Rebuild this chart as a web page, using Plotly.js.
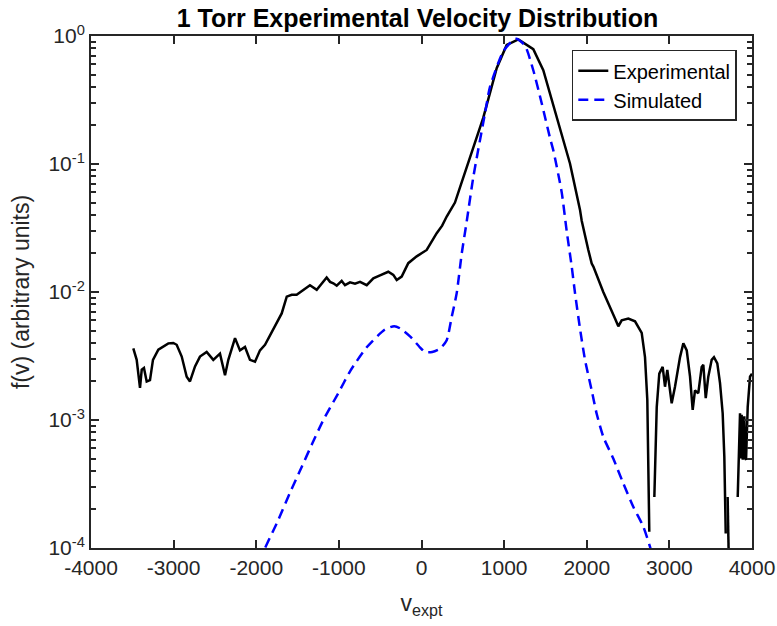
<!DOCTYPE html>
<html>
<head>
<meta charset="utf-8">
<script src="https://cdn.plot.ly/plotly-3.0.1.min.js"></script>
<style>html,body{margin:0;padding:0;background:#fff;}#chart{width:777px;height:626px;}</style>
</head>
<body>
<div id="chart"></div>
<script>
// Experimental curve (null = gap where the value cannot be drawn on a log axis)
const expX = [-3488,-3447,-3407,-3386,-3359,-3326,-3286,-3250,-3185,-3125,-3064,-3004,-2963,-2902,-2842,-2802,-2741,-2681,-2600,-2520,-2439,-2378,-2338,-2257,-2197,-2136,-2076,-2015,-1955,-1894,-1834,-1752,-1692,-1631,-1571,-1511,-1431,-1350,-1268,-1148,-1107,-1067,-1026,-966,-926,-865,-805,-744,-663,-583,-502,-402,-341,-300,-240,-160,-58,63,184,250,305,405,480,587,748,910,1031,1172,1353,1474,1595,1636,1757,1797,1918,1939,2019,2060,2080,2200,2342,2382,2423,2503,2584,2665,2705,2733,2757,2787,2818,2847,2878,2919,2947,2975,3028,3068,3129,3169,3210,3250,3282,3310,3350,3391,3411,3440,3471,3512,3540,3580,3613,3645,3665,3682,3693,3705,3725,3780,3827,3855,3865,3875,3888,3907,3918,3928,3948,3976,4000];
const expY = [3.63e-3,2.95e-3,1.78e-3,2.47e-3,2.55e-3,2.0e-3,2.05e-3,2.95e-3,3.54e-3,3.72e-3,3.97e-3,4.0e-3,3.87e-3,3.13e-3,2.18e-3,2.0e-3,2.62e-3,3.13e-3,3.4e-3,2.95e-3,3.3e-3,2.24e-3,2.95e-3,4.36e-3,3.5e-3,3.72e-3,2.95e-3,2.85e-3,3.5e-3,3.87e-3,4.6e-3,5.7e-3,6.8e-3,9.2e-3,9.5e-3,9.5e-3,1.04e-2,1.13e-2,1.04e-2,1.30e-2,1.2e-2,1.17e-2,1.12e-2,1.22e-2,1.13e-2,1.19e-2,1.16e-2,1.2e-2,1.13e-2,1.28e-2,1.35e-2,1.44e-2,1.36e-2,1.24e-2,1.32e-2,1.68e-2,1.9e-2,2.13e-2,2.88e-2,3.3e-2,3.89e-2,5.0e-2,7.0e-2,0.114,0.23,0.56,0.85,0.94,0.79,0.54,0.29,0.234,0.128,0.101,4.4e-2,3.6e-2,2.13e-2,1.67e-2,1.58e-2,1.0e-2,6.2e-3,5.4e-3,6.0e-3,6.2e-3,5.9e-3,4.8e-3,3.1e-3,1.44e-3,1.34e-4,null,2.5e-4,1.26e-3,2.3e-3,2.6e-3,1.82e-3,2.46e-3,1.35e-3,1.82e-3,3.1e-3,3.98e-3,3.5e-3,2.18e-3,1.2e-3,1.7e-3,1.62e-3,2.6e-3,2.7e-3,1.48e-3,2.18e-3,2.95e-3,3.1e-3,2.77e-3,1.94e-3,1.13e-3,5.2e-4,1.3e-4,null,2.5e-4,5e-5,null,2.5e-4,1.13e-3,5.0e-4,1.1e-3,4.9e-4,1.07e-3,5.0e-4,4.9e-4,1.26e-3,2.18e-3,2.3e-3];

// Simulated curve
const simX = [-2050,-1894,-1752,-1592,-1450,-1329,-1188,-1007,-865,-663,-442,-330,-260,-139,-20,42,130,224,305,366,426,487,547,627,769,829,990,1111,1150,1253,1353,1454,1555,1595,1697,1757,1818,1858,1918,1979,2060,2120,2200,2321,2442,2563,2684,2766,2850];
const simY = [6e-5,1.0e-4,1.56e-4,2.7e-4,4.3e-4,6.4e-4,1.0e-3,1.62e-3,2.4e-3,3.7e-3,5.1e-3,5.4e-3,5.2e-3,4.5e-3,3.7e-3,3.4e-3,3.4e-3,3.6e-3,4.2e-3,6.4e-3,9.8e-3,2.0e-2,3.55e-2,7.9e-2,0.25,0.40,0.76,0.93,0.95,0.84,0.54,0.30,0.16,0.128,6.0e-2,3.0e-2,1.58e-2,9.8e-3,5.2e-3,2.95e-3,1.7e-3,1.12e-3,7.4e-4,5.0e-4,3.2e-4,2.1e-4,1.47e-4,1.02e-4,6.5e-5];

const xTicks = [-4000,-3000,-2000,-1000,0,1000,2000,3000,4000];
const yTicks = [1e-4,1e-3,1e-2,1e-1,1];
const yTickText = ['10<sup>-4</sup>','10<sup>-3</sup>','10<sup>-2</sup>','10<sup>-1</sup>','10<sup>0</sup>'];
const minorMult = [2,3,4,5,6,7,8,9];
const minorTicks = [];
[1e-4,1e-3,1e-2,1e-1].forEach(d => minorMult.forEach(m => minorTicks.push(m*d)));

const axisColor = '#262626';
const font = 'Liberation Sans, Arial, sans-serif';

const traces = [
  {x: expX, y: expY, type: 'scatter', mode: 'lines', name: 'Experimental',
   line: {color: '#000000', width: 2.5}, connectgaps: false},
  {x: simX, y: simY, type: 'scatter', mode: 'lines', name: 'Simulated',
   line: {color: '#0000ff', width: 2.5, dash: '10px,6px', shape: 'spline', smoothing: 0.6}},
  // carrier for the right-side minor-tick axis (invisible)
  {x: simX, y: simY, type: 'scatter', mode: 'lines', yaxis: 'y2',
   showlegend: false, hoverinfo: 'skip', opacity: 0, line: {width: 0.1, color: 'rgba(0,0,0,0)'}}
];

const layout = {
  width: 777, height: 626,
  margin: {l: 91, r: 25, t: 36, b: 78},
  paper_bgcolor: '#ffffff', plot_bgcolor: '#ffffff',
  font: {family: font, color: axisColor, size: 21},
  title: {text: '<b>1 Torr Experimental Velocity Distribution</b>',
          font: {family: font, size: 25, color: '#000'},
          x: 0.494, xref: 'paper', xanchor: 'center', y: 1 - 18/626, yref: 'container', yanchor: 'middle'},
  xaxis: {
    range: [-4000, 4000], tickvals: xTicks, ticktext: xTicks.map(String),
    showgrid: false, zeroline: false,
    showline: true, linecolor: axisColor, linewidth: 2, mirror: 'ticks',
    ticks: 'inside', ticklen: 8, tickwidth: 2, tickcolor: axisColor,
    tickfont: {size: 21, color: axisColor},
    title: {text: 'v<sub>expt</sub>', font: {size: 23, color: axisColor}, standoff: 17}
  },
  yaxis: {
    type: 'log', range: [-4, 0], tickvals: yTicks, ticktext: yTickText,
    showgrid: false, zeroline: false,
    showline: true, linecolor: axisColor, linewidth: 2, mirror: 'ticks',
    ticks: 'inside', ticklen: 8, tickwidth: 2, tickcolor: axisColor,
    tickfont: {size: 21, color: axisColor},
    minor: {tickmode: 'array', tickvals: minorTicks, ticks: 'inside', ticklen: 5, tickwidth: 2, tickcolor: axisColor, showgrid: false},
    title: {text: 'f(v) (arbitrary units)', font: {size: 23, color: axisColor}, standoff: 12}
  },
  yaxis2: {
    type: 'log', range: [-4, 0], overlaying: 'y', side: 'right',
    tickvals: minorTicks, showticklabels: false,
    showgrid: false, zeroline: false, showline: false,
    ticks: 'inside', ticklen: 5, tickwidth: 2, tickcolor: axisColor
  },
  showlegend: true,
  legend: {x: 0.977, xanchor: 'right', y: 0.973, yanchor: 'top',
           bgcolor: '#ffffff', bordercolor: axisColor, borderwidth: 1.5,
           font: {size: 20, color: '#000'}, tracegroupgap: 0}
};

Plotly.newPlot('chart', traces, layout, {displayModeBar: false, staticPlot: true});
</script>
</body>
</html>
